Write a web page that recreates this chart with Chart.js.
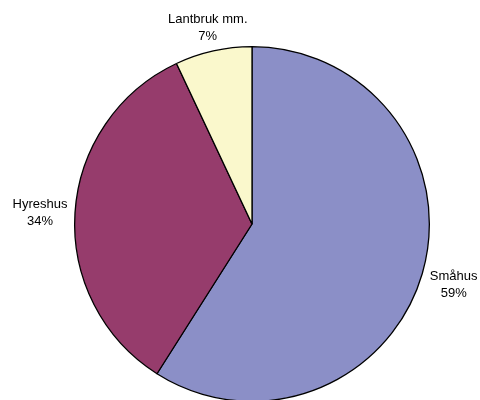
<!DOCTYPE html>
<html lang="sv">
<head>
    <meta charset="UTF-8">
    <title>Bostadsbestånd</title>
    <script src="https://cdn.jsdelivr.net/npm/chart.js"></script>
    <style>
        html, body {
            margin: 0;
            padding: 0;
            background: #ffffff;
            overflow: hidden;
        }
        .wrap {
            width: 480px;
            height: 400px;
            overflow: hidden;
        }
    </style>
</head>
<body>
    <div class="wrap">
        <canvas id="pieChart" width="480" height="410"></canvas>
    </div>

    <script>
        const categories = ['Småhus', 'Hyreshus', 'Lantbruk mm.'];
        const shares = [59, 34, 7];
        const sliceColors = ['#8b8fc7', '#963c6c', '#faf8cc'];

        // draws "name / xx%" outside each slice, along its middle angle
        const outsideLabels = {
            id: 'outsideLabels',
            afterDatasetsDraw(chart) {
                const ctx = chart.ctx;
                const arcs = chart.getDatasetMeta(0).data;
                ctx.save();
                ctx.font = '13px "Liberation Sans", Arial, sans-serif';
                ctx.fillStyle = '#000';
                ctx.textAlign = 'center';
                ctx.textBaseline = 'middle';
                arcs.forEach((arc, i) => {
                    const lines = [categories[i], shares[i] + '%'];
                    const w = Math.max(...lines.map(l => ctx.measureText(l).width));
                    const h = 20;
                    const mid = (arc.startAngle + arc.endAngle) / 2;
                    const cos = Math.cos(mid), sin = Math.sin(mid);
                    const d = arc.outerRadius + 7 + Math.abs(cos) * w / 2 + Math.abs(sin) * h / 2;
                    const x = arc.x + cos * d;
                    const y = arc.y + sin * d + 2;
                    ctx.fillText(lines[0], x, y - 8.5);
                    ctx.fillText(lines[1], x, y + 8.5);
                });
                ctx.restore();
            }
        };

        new Chart(document.getElementById('pieChart'), {
            type: 'pie',
            data: {
                labels: categories,
                datasets: [{
                    data: shares,
                    backgroundColor: sliceColors,
                    borderColor: '#000',
                    borderWidth: 1.3
                }]
            },
            options: {
                responsive: false,
                animation: false,
                layout: {
                    padding: { left: 74, right: 50, top: 46, bottom: 8 }
                },
                plugins: {
                    legend: { display: false },
                    tooltip: { enabled: false }
                }
            },
            plugins: [outsideLabels]
        });
    </script>
</body>
</html>
